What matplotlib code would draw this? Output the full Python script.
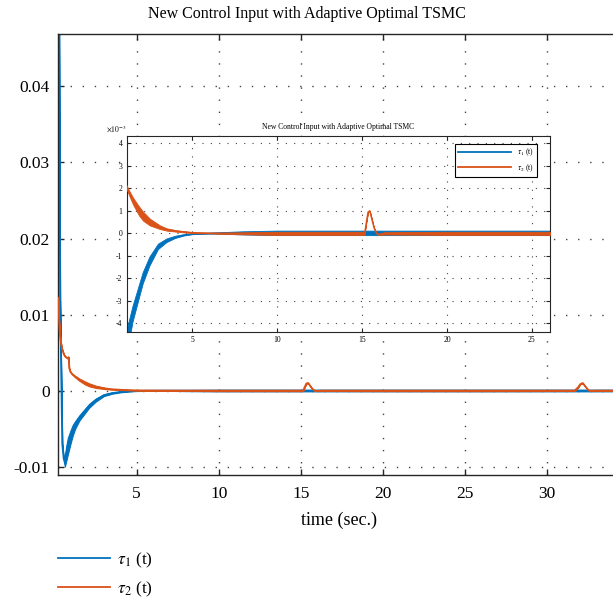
import numpy as np
import matplotlib
matplotlib.use("Agg")
import matplotlib.pyplot as plt

plt.rcParams['font.family'] = ['Liberation Serif', 'DejaVu Serif']
plt.rcParams['mathtext.fontset'] = 'stix'
plt.rcParams['axes.unicode_minus'] = False

# values in units of 1e-3
t1 = [0.20, 0.27, 0.33, 0.40, 0.46, 0.55, 0.62, 0.70, 0.80, 0.95, 1.10, 1.25,
      1.50, 1.80, 2.10, 2.50, 3.00, 3.50, 4.00, 4.50, 5.00, 6.00, 7.00, 8.00,
      10.0, 15.0, 20.0, 26.0, 30.0, 34.5]
tau1 = [60.0, 47.0, 12.0, 1.8, -7.0, -9.0, -9.3, -8.3, -7.3, -6.2, -5.2, -4.5,
        -3.6, -2.8, -2.0, -1.25, -0.6, -0.33, -0.18, -0.09, -0.04, -0.01, 0.0, 0.0,
        0.0, 0.0, 0.0, 0.0, 0.0, 0.0]
spread1 = [0, 0, 0, 0, 0, 0.3, 0.7, 1.0, 1.1, 0.9, 0.7, 0.5,
           0.35, 0.3, 0.25, 0.2, 0.12, 0.08, 0.05, 0.03, 0.02, 0.02, 0.04, 0.07,
           0.1, 0.1, 0.1, 0.1, 0.1, 0.1]

t2 = [0.20, 0.26, 0.32, 0.40, 0.46, 0.55, 0.63, 0.75, 0.83, 0.85, 0.88, 0.95,
      1.05, 1.24, 1.50, 1.85, 2.10, 2.50, 3.10, 3.50, 4.10, 5.00, 6.00, 7.00,
      10.0, 15.15, 15.25, 15.35, 15.45, 15.55, 15.70, 15.85, 16.00, 16.30, 20.0, 26.0,
      31.70, 31.90, 32.05, 32.20, 32.35, 32.55, 32.70, 33.0, 34.5]
tau2 = [12.2, 9.5, 7.3, 6.0, 5.4, 4.8, 4.5, 4.3, 4.2, 4.4, 3.0, 2.5,
        2.2, 1.85, 1.44, 1.0, 0.76, 0.5, 0.27, 0.17, 0.1, 0.03, 0.01, 0.0,
        0.0, 0.0, 0.5, 0.95, 1.0, 0.7, 0.25, 0.0, -0.05, 0.0, 0.0, 0.0,
        0.0, 0.4, 0.85, 1.0, 0.55, 0.05, -0.03, 0.0, 0.0]
spread2 = [0, 0, 0, 0, 0, 0, 0, 0, 0, 0, 0, 0,
           0.05, 0.1, 0.15, 0.2, 0.2, 0.15, 0.08, 0.05, 0.03, 0.02, 0.01, 0.03,
           0.07, 0.07, 0, 0, 0, 0, 0, 0, 0.03, 0.05, 0.07, 0.07,
           0.05, 0, 0, 0, 0, 0, 0.03, 0.05, 0.05]

labels = [r'$\tau_1$ (t)', r'$\tau_2$ (t)']
blue = '#0072BD'
red = '#D95319'

main_yticks = [-0.01, 0, 0.01, 0.02, 0.03, 0.04]
main_xticks = [5, 10, 15, 20, 25, 30]
inset_yticks = [-4, -3, -2, -1, 0, 1, 2, 3, 4]
inset_xticks = [5, 10, 15, 20, 25]

t1 = np.array(t1); tau1 = np.array(tau1); spread1 = np.array(spread1)
t2 = np.array(t2); tau2 = np.array(tau2); spread2 = np.array(spread2)


def draw(ax, scale, lw):
    ax.fill_between(t1, (tau1 - spread1) * scale, (tau1 + spread1) * scale,
                    color=blue, lw=lw * 0.6, zorder=2)
    l1, = ax.plot(t1, tau1 * scale, color=blue, lw=lw, zorder=2)
    ax.fill_between(t2, (tau2 - spread2) * scale, (tau2 + spread2) * scale,
                    color=red, lw=lw * 0.6, zorder=3)
    l2, = ax.plot(t2, tau2 * scale, color=red, lw=lw, zorder=3)
    return l1, l2


def style(ax, lw, dash, fs):
    ax.grid(True, color='#444444', linestyle=(0, dash), lw=lw)
    ax.tick_params(direction='in', top=True, right=True, labelsize=fs,
                   length=4, width=lw, color='#262626')
    for s in ax.spines.values():
        s.set_color('#262626')
        s.set_linewidth(lw)


fig = plt.figure(figsize=(6.13, 6.03), dpi=100)

# main axes
ax = fig.add_axes([58 / 613, 128 / 603, 562 / 613, 441 / 603])
h = draw(ax, 1e-3, 1.3)
ax.set_xlim(0.2, 34.47)
ax.set_ylim(-0.0111, 0.0469)
ax.set_xticks(main_xticks)
ax.set_yticks(main_yticks)
ax.set_yticklabels(['%g' % v for v in main_yticks])
style(ax, 1.0, (1, 7.7), 12.5)
ax.tick_params(axis='x', pad=8)
ax.tick_params(axis='y', pad=6)
ax.set_xlabel('time (sec.)', fontsize=13, labelpad=7)
fig.text(307 / 613, 1 - 14 / 603, 'New Control Input with Adaptive Optimal TSMC',
         fontsize=11.5, ha='center', va='center')

fig.legend(h, labels, loc='upper left', bbox_to_anchor=(58 / 613, 0.087),
           frameon=False, fontsize=12.5, handlelength=3.0, handletextpad=0.4,
           labelspacing=0.55, borderpad=0, borderaxespad=0)

# inset axes
ins = fig.add_axes([126.7 / 613, 271.3 / 603, 423.3 / 613, 196 / 603])
ins.set_facecolor('white')
draw(ins, 1.0, 1.0)
ins.set_xlim(1.13, 26.07)
ins.set_ylim(-4.37, 4.34)
ins.set_xticks(inset_xticks)
ins.set_yticks(inset_yticks)
style(ins, 0.8, (1, 6.5), 5.5)
ins.tick_params(axis='both', pad=3, length=3)
ins.set_title('New Control Input with Adaptive Optimal TSMC', fontsize=5.5, pad=5)
ins.text(0, 1.01, r'$\times 10^{-3}$', transform=ins.transAxes, fontsize=5.5,
         ha='right', va='bottom')
ins.legend(h, labels, loc='upper right', fontsize=5.5, fancybox=False,
           edgecolor='black', framealpha=1, handlelength=7.0,
           bbox_to_anchor=(0.97, 0.96), borderaxespad=0)
ins.get_legend().get_frame().set_linewidth(0.8)

fig.savefig('out.png', dpi=100)
